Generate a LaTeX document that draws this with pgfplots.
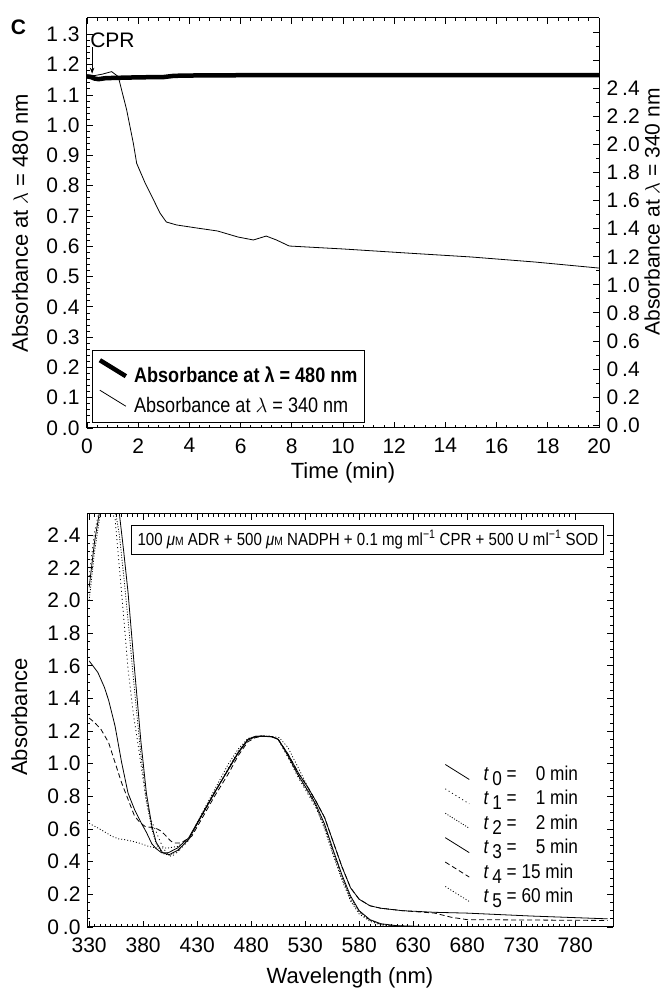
\documentclass[border=0pt]{standalone}
\usepackage{fontspec}
\setmainfont{Liberation Sans}
\newfontfamily\narrow{Liberation Sans}[FakeStretch=0.86]
\usepackage{pgfplots}
\pgfplotsset{compat=1.18}
\usetikzlibrary{arrows.meta}
\newcommand{\dd}[2]{#1\kern4pt.#2}
\newcommand{\tl}[1]{\hspace*{14pt}\textit{t}\,\raisebox{-5pt}{#1}}
\pgfplotsset{
  base/.style={
    scale only axis,
    axis line style={line width=1pt},
    every tick/.style={line width=0.8pt, black},
    major tick length=6pt, minor tick length=3pt,
    tick align=inside,
    tick label style={font=\fontsize{21}{24}\selectfont},
    xticklabel style={yshift=-7pt},
    label style={font=\fontsize{22}{26}\selectfont},
    /pgf/number format/assume math mode=true,
    clip=true,
  },
}
\begin{document}
\begin{tikzpicture}
\useasboundingbox (0,0) rectangle (670pt,988pt);
% ---------------- top panel, left axis ----------------
\begin{axis}[base,
  at={(87pt,560pt)}, anchor=south west, width=512pt, height=410pt,
  xmin=0, xmax=20, ymin=0, ymax=1.354,
  xtick={0,2,4,6,8,10,12,14,16,18,20},
  ytick={0,0.1,0.2,0.3,0.4,0.5,0.6,0.7,0.8,0.9,1.0,1.1,1.2,1.3},
  yticklabels={\dd00,\dd01,\dd02,\dd03,\dd04,\dd05,\dd06,\dd07,\dd08,\dd09,\dd10,\dd11,\dd12,\dd13},
  yticklabel style={xshift=-4pt},
  minor x tick num=4, minor y tick num=4,
  axis y line*=left,
  xlabel={Time (min)},
  ylabel={Absorbance at $\lambda$ = 480 nm},
  xlabel style={at={(axis description cs:0.5,-0.11)}, anchor=center},
  ylabel style={at={(axis description cs:-0.131,0.5)}, anchor=center},
  legend image code/.code={\draw[#1] (0pt,15pt) -- (26pt,-1pt);},
  legend style={at={(axis description cs:0.01,0.012)}, anchor=south west,
    draw=black, line width=1pt, font=\narrow\fontsize{21}{24}\selectfont,
    inner xsep=5pt, inner ysep=7pt, row sep=4pt, legend cell align=left,
    /tikz/every odd column/.append style={column sep=4pt}},
]
\addplot[black, line width=4.5pt, line join=round] coordinates {
(0,1.161) (0.15,1.159) (0.3,1.154) (0.45,1.152) (0.7,1.155) (1.0,1.156)
(1.5,1.157) (2.0,1.158) (3.0,1.159) (3.4,1.163) (4.0,1.164) (6.0,1.165)
(10,1.165) (15,1.165) (20,1.165)};
\addlegendentry{\bfseries Absorbance at λ = 480 nm}
\addlegendimage{black, line width=0.8pt}
\addlegendentry{Absorbance at $\lambda$ = 340 nm}
\draw[-{Stealth[length=6pt,width=4.5pt]}, line width=1pt, black] (axis cs:0.2,1.258) -- (axis cs:0.2,1.170);
\node[anchor=west, inner sep=0pt, font=\fontsize{21}{24}\selectfont] at (axis cs:0.12,1.28) {CPR};
\end{axis}
% ---------------- top panel, right axis ----------------
\begin{axis}[base,
  at={(87pt,560pt)}, anchor=south west, width=512pt, height=410pt,
  xmin=0, xmax=20, ymin=-0.02, ymax=2.90,
  axis y line*=right, axis x line=none,
  ytick={0,0.2,0.4,0.6,0.8,1.0,1.2,1.4,1.6,1.8,2.0,2.2,2.4,2.6,2.8},
  yticklabels={\dd00,\dd02,\dd04,\dd06,\dd08,\dd10,\dd12,\dd14,\dd16,\dd18,\dd20,\dd22,\dd24,{},{}},
  yticklabel style={xshift=4pt},
  minor y tick num=1,
  ylabel={Absorbance at $\lambda$ = 340 nm},
  ylabel style={at={(axis description cs:1.1035,0.527)}, anchor=center, rotate=0, font=\fontsize{21}{24}\selectfont},
]
\addplot[black, line width=0.8pt] coordinates {
(0,2.495) (0.3,2.49) (0.6,2.50) (0.96,2.518) (1.22,2.483) (1.55,2.245)
(1.81,2.008) (1.94,1.865) (2.27,1.725) (2.66,1.582) (2.85,1.511) (3.1,1.447)
(3.5,1.426) (4.3,1.404) (5.1,1.383) (5.9,1.340) (6.5,1.319) (7.0,1.347)
(7.4,1.319) (7.9,1.276) (10,1.255) (12.5,1.226) (15,1.198) (17.5,1.162) (20,1.119)};
\end{axis}
\node[font=\bfseries\fontsize{21}{22}\selectfont] at (18.5pt,961pt) {C};
% ---------------- bottom panel ----------------
\begin{axis}[base,
  at={(87pt,61pt)}, anchor=south west, width=526pt, height=413pt,
  xmin=328, xmax=815, ymin=0, ymax=2.53,
  xtick={330,380,430,480,530,580,630,680,730,780},
  ytick={0,0.2,0.4,0.6,0.8,1.0,1.2,1.4,1.6,1.8,2.0,2.2,2.4},
  yticklabels={\dd00,\dd02,\dd04,\dd06,\dd08,\dd10,\dd12,\dd14,\dd16,\dd18,\dd20,\dd22,\dd24},
  yticklabel style={xshift=-3pt},
  minor x tick num=9, minor y tick num=3,
  xlabel={Wavelength (nm)}, ylabel={Absorbance},
  xlabel style={at={(axis description cs:0.5,-0.123)}, anchor=center},
  ylabel style={at={(axis description cs:-0.129,0.508)}, anchor=center},
  legend image code/.code={\draw[#1] (0pt,12pt) -- (24pt,-3pt);},
  legend style={at={(axis description cs:0.68,0.395)}, anchor=north west,
    draw=none, fill=none, font=\narrow\fontsize{20}{24}\selectfont,
    inner sep=0pt, row sep=3pt, legend cell align=left,
    nodes={text height=13pt, text depth=5pt, inner sep=0pt}},
]
\addplot[black, line width=0.8pt] coordinates {
(330,2.08) (335,2.36) (340,2.56) (345,2.64) (350,2.65) (355,2.60) (358,2.53)
(362,2.30) (366,2.05) (372,1.58) (378,1.13) (383,0.82) (388,0.62) (392,0.52)
(398,0.455) (404,0.443) (412,0.47) (422,0.535) (434,0.68) (446,0.82) (459,0.97)
(468,1.07) (477,1.15) (484,1.168) (490,1.170) (499,1.167) (505,1.15) (514,1.05)
(524,0.925) (533,0.83) (540,0.75) (548,0.63) (556,0.47) (564,0.32) (572,0.19)
(580,0.10) (590,0.045) (600,0.02) (615,0.008) (640,0.003) (700,0.0) (810,0.0)};
\addlegendentry{\tl{0} =\hphantom{0}\ \ 0 min}
\addplot[black, line width=0.8pt, dash pattern=on 1pt off 3pt] coordinates {
(330,2.15) (335,2.42) (340,2.57) (345,2.58) (350,2.55) (354,2.50) (360,2.05)
(366,1.58) (371,1.30) (375,1.13) (380,0.90) (383,0.76) (387,0.66) (391,0.60)
(396,0.52) (400,0.47) (406,0.43) (412,0.46) (422,0.53) (434,0.675) (446,0.82)
(459,0.975) (468,1.075) (477,1.15) (484,1.168) (490,1.170) (499,1.167) (505,1.148)
(514,1.04) (524,0.91) (533,0.81) (540,0.73) (548,0.61) (556,0.45) (564,0.30)
(572,0.17) (580,0.09) (590,0.04) (600,0.015) (615,0.005) (640,0.0) (810,0.0)};
\addlegendentry{\tl{1} =\hphantom{0}\ \ 1 min}
\addplot[black, line width=0.8pt, dash pattern=on 1pt off 1.6pt] coordinates {
(330,2.00) (335,2.30) (340,2.52) (345,2.60) (350,2.60) (355,2.52) (358,2.40)
(362,2.15) (366,1.88) (372,1.45) (378,1.05) (383,0.78) (388,0.60) (392,0.51)
(398,0.45) (404,0.44) (412,0.465) (422,0.535) (434,0.68) (446,0.82) (459,0.97)
(468,1.07) (477,1.15) (484,1.168) (490,1.170) (499,1.167) (505,1.15) (514,1.05)
(524,0.92) (533,0.82) (540,0.74) (548,0.62) (556,0.46) (564,0.31) (572,0.18)
(580,0.095) (590,0.042) (600,0.018) (615,0.006) (640,0.002) (700,0.0) (810,0.0)};
\addlegendentry{\tl{2} =\hphantom{0}\ \ 2 min}
\addplot[black, line width=0.8pt] coordinates {
(330,1.63) (338,1.56) (344,1.47) (348,1.39) (354,1.23) (360,1.01) (366,0.82)
(372,0.72) (378,0.64) (383,0.58) (388,0.51) (392,0.48) (397,0.455) (403,0.454)
(412,0.485) (422,0.545) (434,0.685) (446,0.825) (459,0.965) (468,1.065) (477,1.145)
(484,1.165) (490,1.168) (499,1.165) (505,1.15) (514,1.06) (524,0.94) (533,0.85)
(540,0.77) (548,0.67) (556,0.52) (564,0.37) (572,0.24) (580,0.17) (590,0.13)
(600,0.115) (620,0.10) (650,0.09) (680,0.085) (740,0.067) (810,0.05)};
\addlegendentry{\tl{3} =\hphantom{0}\ \ 5 min}
\addplot[black, line width=0.8pt, dash pattern=on 5pt off 3pt] coordinates {
(330,1.28) (335,1.253) (341,1.21) (348,1.13) (354,1.007) (360,0.884) (366,0.782)
(372,0.68) (377,0.64) (382,0.615) (391,0.607) (396,0.59) (400,0.566) (405,0.53)
(408,0.515) (415,0.515) (425,0.556) (434,0.66) (446,0.80) (459,0.94) (468,1.05)
(477,1.135) (484,1.16) (490,1.168) (499,1.165) (505,1.15) (514,1.06) (524,0.94)
(533,0.85) (540,0.77) (548,0.67) (556,0.52) (564,0.37) (572,0.24) (580,0.17)
(590,0.13) (600,0.115) (620,0.10) (650,0.085) (665,0.06) (680,0.045) (810,0.04)};
\addlegendentry{\tl{4} = 15 min}
\addplot[black, line width=0.8pt, dash pattern=on 1pt off 2pt] coordinates {
(330,0.635) (338,0.607) (345,0.58) (351,0.556) (357,0.54) (363,0.535) (370,0.525)
(376,0.515) (385,0.494) (392,0.484) (403,0.484) (412,0.494) (422,0.536) (434,0.69)
(446,0.84) (459,1.00) (468,1.09) (477,1.155) (484,1.168) (490,1.170) (499,1.167)
(506,1.16) (514,1.10) (524,0.97) (533,0.85) (540,0.74) (548,0.60) (556,0.44)
(564,0.29) (572,0.16) (580,0.08) (590,0.035) (600,0.012) (620,0.003) (650,0.0) (810,0.0)};
\addlegendentry{\tl{5} = 60 min}
\node[draw=black, line width=1pt, minimum width=472pt, minimum height=29pt, inner sep=0pt,
  font=\narrow\fontsize{17.5}{20}\selectfont] at (axis description cs:0.534,0.938)
  {100 \textit{μ}{\fontsize{12}{12}\selectfont M} ADR + 500 \textit{μ}{\fontsize{12}{12}\selectfont M} NADPH + 0.1 mg ml\textsuperscript{−1} CPR + 500 U ml\textsuperscript{−1} SOD};
\end{axis}
\end{tikzpicture}
\end{document}
